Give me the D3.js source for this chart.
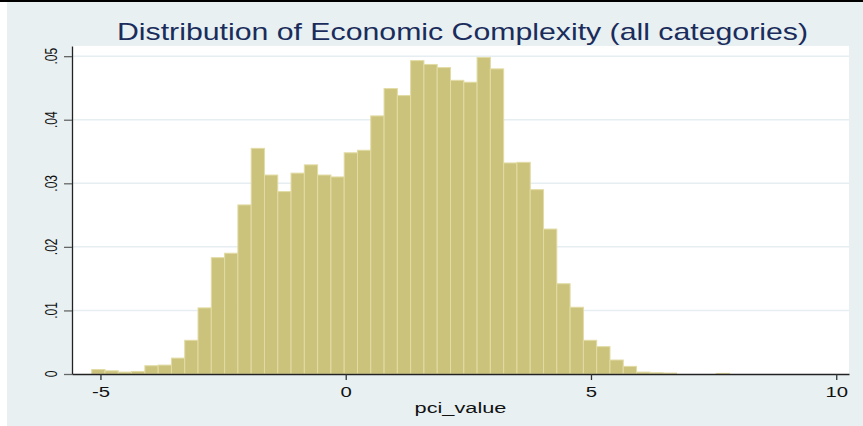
<!DOCTYPE html>
<html lang="en">
<head>
    <meta charset="UTF-8">
    <title>Distribution of Economic Complexity | D3</title>
    <style>
        body { margin: 0; background: #ffffff; }
        svg { display: block; font-family: "Liberation Sans", Arial, sans-serif; }
    </style>
</head>
<body>
    <div id="histogram"></div>

    <script type="text/javascript" src="https://d3js.org/d3.v7.min.js"></script>
    <script type="text/javascript">
        // Histogram densities, one per bin (48 bins of equal width).
        var densities = [
            0.0007, 0.0005, 0.0003, 0.0004, 0.0013, 0.0014, 0.0025, 0.0053,
            0.0104, 0.0183, 0.0190, 0.0266, 0.0355, 0.0313, 0.0287, 0.0316,
            0.0329, 0.0313, 0.0310, 0.0348, 0.0352, 0.0406, 0.0449, 0.0438,
            0.0493, 0.0487, 0.0482, 0.0462, 0.0459, 0.0498, 0.0480, 0.0332,
            0.0333, 0.0290, 0.0228, 0.0142, 0.0105, 0.0053, 0.0043, 0.0022,
            0.0012, 0.0003, 0.0002, 0.00015, 0, 0, 0, 0.0001
        ];
        var binStart = -5.178;
        var binWidth = 0.2709;

        var xTicks = [-5, 0, 5, 10];
        var xTickLabels = ["-5", "0", "5", "10"];
        var yTicks = [0, 0.01, 0.02, 0.03, 0.04, 0.05];
        var yTickLabels = ["0", ".01", ".02", ".03", ".04", ".05"];

        var titleText = "Distribution of Economic Complexity (all categories)";
        var xTitle = "pci_value";

        var totalWidth = 863, totalHeight = 426;
        var margin = { top: 46, right: 14, bottom: 52, left: 72 };
        var width = totalWidth - margin.left - margin.right,
            height = totalHeight - margin.top - margin.bottom;

        // the source picture is stretched sideways, so text gets the same stretch
        var stretch = 1.45;

        var bins = densities.map(function(d, i) {
            return { x0: binStart + i * binWidth, x1: binStart + (i + 1) * binWidth, value: d };
        });

        var x = d3.scaleLinear().domain([-5.58, 10.26]).range([0, width]);
        var y = d3.scaleLinear().domain([0, 0.0516]).range([height, 0]);

        var svg = d3.select("#histogram")
            .append("svg")
            .attr("width", totalWidth)
            .attr("height", totalHeight);

        // graph region background
        svg.append("rect")
            .attr("x", 7).attr("y", 0)
            .attr("width", totalWidth - 7).attr("height", totalHeight)
            .attr("fill", "#e8f0f2");
        svg.append("rect")
            .attr("x", 0).attr("y", 0)
            .attr("width", totalWidth).attr("height", 2)
            .attr("fill", "#000");

        var g = svg.append("g")
            .attr("transform", "translate(" + margin.left + "," + margin.top + ")");

        // plot region
        g.append("rect")
            .attr("width", width)
            .attr("height", height)
            .attr("fill", "#ffffff");

        // grid lines
        g.append("g")
            .selectAll("line")
            .data(yTicks.filter(function(d) { return d > 0; }))
            .enter().append("line")
            .attr("x1", 0).attr("x2", width)
            .attr("y1", function(d) { return y(d); })
            .attr("y2", function(d) { return y(d); })
            .attr("stroke", "#e6eef1")
            .attr("stroke-width", 1.5);

        // bars
        g.append("g")
            .selectAll("rect")
            .data(bins.filter(function(d) { return d.value > 0; }))
            .enter().append("rect")
            .attr("x", function(d) { return x(d.x0); })
            .attr("y", function(d) { return y(d.value); })
            .attr("width", function(d) { return x(d.x1) - x(d.x0); })
            .attr("height", function(d) { return height - y(d.value); })
            .attr("fill", "#cbc37b")
            .attr("stroke", "#e2dba4")
            .attr("stroke-width", 1);

        // x axis
        var xAxis = d3.axisBottom(x)
            .tickValues(xTicks)
            .tickSize(6)
            .tickSizeOuter(0)
            .tickFormat(function(d, i) { return xTickLabels[i]; });

        var xAxisGroup = g.append("g")
            .attr("transform", "translate(0," + height + ")")
            .call(xAxis);
        xAxisGroup.select(".domain").attr("stroke", "#222").attr("stroke-width", 1.3);
        xAxisGroup.selectAll(".tick line").attr("stroke", "#333").attr("stroke-width", 1.3);
        xAxisGroup.selectAll(".tick text")
            .attr("y", 23)
            .attr("dy", 0)
            .attr("font-size", 14)
            .attr("font-family", "Liberation Sans, Arial, sans-serif")
            .attr("fill", "#111")
            .attr("transform", "scale(" + stretch + ",1)");

        // y axis, labels are drawn by hand since they are rotated
        var yAxis = d3.axisLeft(y)
            .tickValues(yTicks)
            .tickSize(8)
            .tickSizeOuter(0)
            .tickFormat("");

        var yAxisGroup = g.append("g").call(yAxis);
        yAxisGroup.select(".domain").attr("stroke", "#222").attr("stroke-width", 1.3);
        yAxisGroup.selectAll(".tick line").attr("stroke", "#666").attr("stroke-width", 1.3);

        g.append("g")
            .selectAll("text")
            .data(yTicks)
            .enter().append("text")
            .attr("transform", function(d) {
                return "translate(-15," + y(d) + ") scale(1.4,1) rotate(-90)";
            })
            .attr("text-anchor", "middle")
            .attr("font-size", 12)
            .attr("fill", "#111")
            .text(function(d, i) { return yTickLabels[i]; });

        // x axis title
        g.append("text")
            .attr("transform", "translate(" + (width / 2) + "," + (height + 39) + ") scale(" + stretch + ",1)")
            .attr("text-anchor", "middle")
            .attr("font-size", 15)
            .attr("fill", "#111")
            .text(xTitle);

        // chart title
        svg.append("text")
            .attr("x", margin.left + width / 2 + 2)
            .attr("y", 40)
            .attr("text-anchor", "middle")
            .attr("font-size", 24)
            .attr("textLength", 691)
            .attr("lengthAdjust", "spacingAndGlyphs")
            .attr("fill", "#1a2c5b")
            .text(titleText);
    </script>
</body>
</html>
